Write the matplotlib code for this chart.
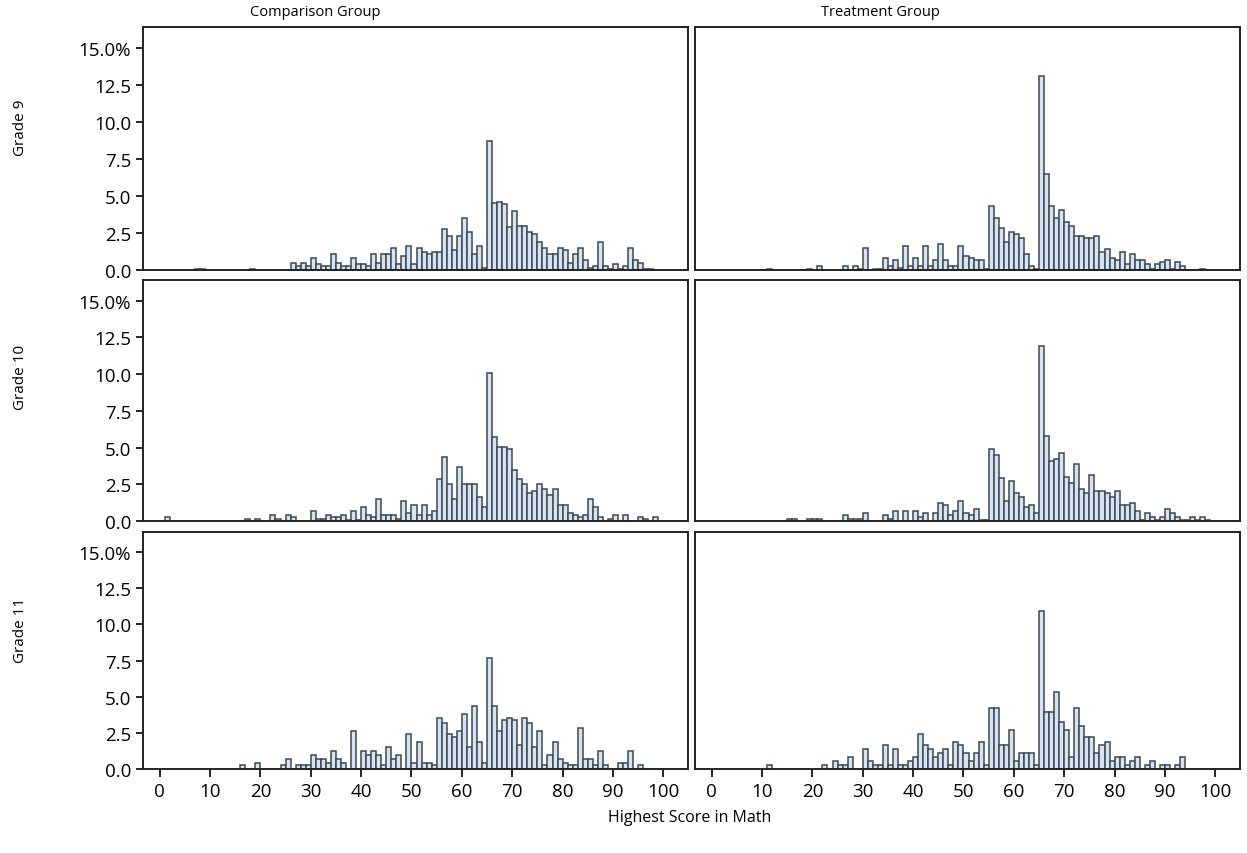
import matplotlib
matplotlib.use('Agg')
import matplotlib.pyplot as plt
import numpy as np

plt.rcParams['font.family'] = ['Open Sans', 'DejaVu Sans']

# percent of students at each highest math score (0..100)
scores = np.arange(101)

comp_g9 = [
    0, 0, 0, 0, 0, 0, 0, 0.1, 0.1, 0,
    0, 0, 0, 0, 0, 0, 0, 0, 0.1, 0,
    0, 0, 0, 0, 0, 0, 0.5, 0.25, 0.5, 0.25,
    0.8, 0.4, 0.25, 0.25, 1.1, 0.5, 0.25, 0.25, 0.8, 0.4,
    0.4, 0.25, 1.1, 0.5, 1.1, 1.1, 1.5, 0.4, 0.95, 1.6,
    0.4, 1.5, 1.2, 1.05, 1.2, 1.2, 2.8, 2.3, 1.35, 2.3,
    3.5, 2.55, 1.05, 1.6, 0.15, 8.7, 4.5, 4.6, 4.45, 2.9,
    4.0, 2.95, 2.95, 2.55, 2.4, 1.9, 1.5, 1.05, 1.05, 1.5,
    1.35, 0.5, 1.05, 1.5, 0.7, 0.15, 0.3, 1.9, 0.3, 0.1,
    0.4, 0.1, 0.3, 1.5, 0.7, 0.5, 0.1, 0.1, 0, 0, 0]

treat_g9 = [
    0, 0, 0, 0, 0, 0, 0, 0, 0, 0,
    0, 0.1, 0, 0, 0, 0, 0, 0, 0, 0.1,
    0, 0.3, 0, 0, 0, 0, 0.3, 0, 0.3, 0.1,
    1.5, 0, 0.1, 0.1, 0.8, 0.3, 0.7, 0.15, 1.6, 0.3,
    0.8, 0.3, 1.6, 0.3, 0.7, 1.75, 0.7, 0.3, 0.3, 1.6,
    0.95, 0.8, 0.65, 0.65, 0.1, 4.35, 3.5, 2.85, 1.9, 2.55,
    2.4, 2.15, 1.1, 0.25, 0.1, 13.1, 6.5, 4.35, 3.5, 4.05,
    3.25, 2.95, 2.3, 2.3, 2.15, 2.15, 2.3, 1.2, 1.45, 0.8,
    0.65, 1.2, 0.4, 1.1, 0.65, 0.65, 0.4, 0.05, 0.4, 0.55,
    0.65, 0.1, 0.55, 0.25, 0, 0, 0, 0.1, 0, 0, 0]

comp_g10 = [
    0, 0.27, 0, 0, 0, 0, 0, 0, 0, 0,
    0, 0, 0, 0, 0, 0, 0, 0.15, 0, 0.15,
    0, 0, 0.4, 0.15, 0, 0.4, 0.27, 0, 0, 0,
    0.7, 0.15, 0.15, 0.4, 0.27, 0.27, 0.4, 0.05, 0.7, 0.05,
    0.95, 0.4, 0.27, 1.5, 0.4, 0.4, 0.4, 0.15, 1.35, 0.55,
    1.1, 0.4, 1.1, 0.4, 0.7, 2.85, 4.35, 2.55, 1.5, 3.7,
    2.55, 2.55, 2.55, 1.65, 0.95, 10.1, 5.7, 5.05, 5.05, 4.9,
    3.5, 2.85, 2.55, 1.9, 2.05, 2.55, 2.15, 1.75, 2.15, 1.1,
    1.1, 0.55, 0.4, 0.27, 0.4, 1.5, 0.95, 0.27, 0, 0.15,
    0.4, 0, 0.4, 0, 0, 0.27, 0.15, 0, 0.27, 0, 0]

treat_g10 = [
    0, 0, 0, 0, 0, 0, 0, 0, 0, 0,
    0, 0, 0, 0, 0, 0.15, 0.15, 0, 0, 0.15,
    0.15, 0.15, 0, 0, 0, 0, 0.4, 0.15, 0.15, 0.15,
    0.55, 0, 0, 0, 0.4, 0.15, 0.7, 0, 0.7, 0,
    0.7, 0.27, 0.55, 0, 0.55, 1.2, 1.1, 0.4, 0.7, 1.35,
    0.52, 0.4, 0.8, 0.1, 0.1, 4.9, 4.5, 2.9, 1.35, 2.7,
    1.9, 1.65, 0.95, 1.1, 0.55, 11.9, 5.8, 4.1, 4.2, 4.6,
    3.0, 2.6, 3.9, 2.2, 1.9, 3.1, 2.05, 2.05, 1.9, 1.65,
    2.05, 1.1, 1.1, 1.2, 0.7, 0.1, 0.55, 0.3, 0.1, 0.3,
    0.8, 0.55, 0.3, 0.1, 0.1, 0.3, 0.1, 0.3, 0.1, 0, 0]

comp_g11 = [
    0, 0, 0, 0, 0, 0, 0, 0, 0, 0,
    0, 0, 0, 0, 0, 0, 0.27, 0, 0, 0.4,
    0, 0, 0, 0, 0.27, 0.7, 0, 0.27, 0.27, 0.27,
    0.95, 0.7, 0.7, 0.4, 1.25, 0.7, 0.4, 0, 2.6, 0,
    1.25, 0.95, 1.25, 0.95, 0.27, 1.5, 0.7, 0.95, 0, 2.45,
    0.4, 1.9, 0.4, 0.4, 0.27, 3.5, 3.15, 2.45, 2.2, 2.6,
    3.8, 1.5, 4.35, 1.9, 0.4, 7.65, 4.35, 2.6, 3.4, 3.5,
    3.4, 1.65, 3.5, 3.15, 1.5, 2.6, 0.27, 0.95, 1.9, 0.7,
    0.4, 0.27, 0.27, 2.85, 0.7, 0.7, 0.27, 1.25, 0.27, 0,
    0, 0.4, 0.4, 1.25, 0, 0.27, 0, 0, 0, 0, 0]

treat_g11 = [
    0, 0, 0, 0, 0, 0, 0, 0, 0, 0,
    0, 0.27, 0, 0, 0, 0, 0, 0, 0, 0,
    0, 0, 0.27, 0, 0.55, 0.27, 0.27, 0.8, 0, 0,
    1.35, 0.55, 0.27, 0.27, 1.65, 0.27, 1.35, 0.27, 0.27, 0.55,
    0.8, 2.45, 1.65, 1.35, 0.8, 1.1, 1.35, 0.27, 1.9, 1.65,
    1.1, 0.55, 1.1, 1.9, 0.27, 4.2, 4.2, 1.65, 1.65, 2.7,
    0.55, 1.1, 1.1, 1.1, 0.27, 10.9, 3.95, 3.95, 5.35, 3.25,
    2.7, 0.8, 4.2, 3.0, 2.2, 2.2, 1.1, 1.65, 1.9, 0.55,
    0.8, 0.8, 0.27, 0.55, 0.8, 0, 0.27, 0.55, 0, 0.27,
    0.27, 0, 0.27, 0.8, 0, 0, 0, 0, 0, 0, 0]

row_labels = ['Grade 9', 'Grade 10', 'Grade 11']
col_labels = ['Comparison Group', 'Treatment Group']
panels = [[comp_g9, treat_g9], [comp_g10, treat_g10], [comp_g11, treat_g11]]

W, H = 1247, 854
fig = plt.figure(figsize=(W / 100, H / 100), dpi=100)

col_x = [(143, 688), (695, 1240)]
row_y = [(28, 271), (281, 522), (533, 770)]

for r, (y0, y1) in enumerate(row_y):
    for c, (x0, x1) in enumerate(col_x):
        ax = fig.add_axes([x0 / W, 1 - y1 / H, (x1 - x0) / W, (y1 - y0) / H])
        vals = np.array(panels[r][c])
        nz = vals > 0
        ax.bar(scores[nz], vals[nz], width=1.0, align='edge', color='#d6e4f1',
               edgecolor='#3d4954', linewidth=1.1)
        ax.set_xlim(-3.3, 104.9)
        ax.set_ylim(0, 16.4)
        for sp in ax.spines.values():
            sp.set_linewidth(1.4)
            sp.set_color('#222222')
        ax.set_yticks(np.arange(0, 15.1, 2.5))
        if c == 0:
            ylabs = [f'{v:.1f}' for v in np.arange(0, 15.1, 2.5)]
            ylabs[-1] = '15.0%'
            ax.set_yticklabels(ylabs, fontsize=13.5)
            ax.tick_params(axis='y', length=5, width=1.2)
        else:
            ax.tick_params(axis='y', left=False, labelleft=False)
        ax.set_xticks(np.arange(0, 101, 10))
        if r == 2:
            ax.tick_params(axis='x', length=6, width=1.2, labelsize=13.5)
        else:
            ax.tick_params(axis='x', bottom=False, labelbottom=False)

fig.text(315 / W, 1 - 12 / H, col_labels[0], ha='center', va='center', fontsize=10.5)
fig.text(880 / W, 1 - 12 / H, col_labels[1], ha='center', va='center', fontsize=10.5)
for lab, yc in zip(row_labels, [128, 377, 630]):
    fig.text(20 / W, 1 - yc / H, lab, rotation=90, ha='center', va='center', fontsize=11)
fig.text(690 / W, 1 - 818 / H, 'Highest Score in Math', ha='center', va='center', fontsize=11.5)

plt.savefig('out.png', dpi=100)
plt.close()
